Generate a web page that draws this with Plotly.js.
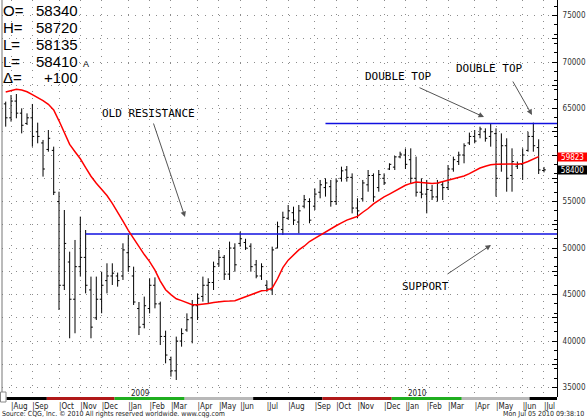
<!DOCTYPE html>
<html><head><meta charset="utf-8">
<script src="https://cdn.plot.ly/plotly-3.0.1.min.js"></script>
<style>html,body{margin:0;padding:0;background:#fff}#chart{width:587px;height:420px}</style>
</head><body><div id="chart"></div>
<script>
// ---- data (weekly bars, first bar week of 2008-07-28) ----
const firstWeek = '2008-07-28';
const weekCount = 102;

const openP = [
65500,64000,65800,64500,63400,64000,62500,61300,60600,60500,
55000,46000,48500,44500,48000,49000,45500,42500,44500,46500,
47000,47000,47000,49500,47000,43500,41800,43500,46000,44000,
40500,38000,36800,40000,41200,42500,43800,44800,46000,46300,
48300,49000,47200,50000,50500,50600,50200,48200,47000,46000,
45500,50000,52000,53200,53800,52800,54500,55000,54500,56000,
56500,56600,55000,57500,58400,57600,54300,55300,56800,57800,
56500,57500,58500,58700,59800,60000,59500,57500,56000,55800,
56200,55500,56800,56500,58500,59300,60000,61300,62000,62200,
62500,62000,62300,59000,61000,57800,58800,59000,60500,62000,
60800,58340];

const highP = [
65740,66450,66560,65020,64480,65490,63480,61620,62690,60900,
56060,54090,49610,50870,53380,51940,46930,46930,47460,48360,
48360,47360,50510,51410,48000,44200,44780,46750,46850,44240,
41120,38330,40480,41370,42980,44420,45130,46930,46750,48540,
49790,49250,50690,50510,51760,51000,50510,48720,48360,46500,
50150,52840,53910,54630,54450,54630,55710,55350,56420,57320,
57500,57320,57500,58750,58820,58030,55350,57320,58390,58030,
58390,58030,59110,59900,60360,60700,60720,59830,57500,57320,
56780,57320,57140,58930,59830,60360,61260,62410,62690,63050,
62870,63410,62870,62330,61800,60720,59300,60720,62510,63480,
61690,58720];

const lowP = [
63050,63590,63950,62330,63230,60900,61260,57680,60360,55700,
43340,45490,40300,40840,46930,45130,40300,42270,42990,45130,
46030,45850,46570,47460,43880,40650,41370,42980,43520,39580,
37610,36180,35820,39400,41010,39760,42270,44240,44060,45490,
48000,46570,46570,47460,50150,49800,47460,46750,46570,45300,
44950,49970,51410,53020,52480,51580,54270,52660,54090,55350,
55530,54450,54630,57140,57140,53730,53200,54990,56060,54990,
56060,56780,58390,58390,59650,58500,56960,55530,55350,53730,
55170,54990,55170,56240,58210,58930,59110,61080,61260,61800,
61440,60900,55530,58210,56060,56060,58500,57320,60360,60360,
57960,58135];

const closeP = [
64000,65800,64500,63200,64000,62000,62000,58500,61800,56000,
46000,50500,44500,48000,49000,46000,41500,44500,46000,47000,
47300,46500,49800,48000,44200,41500,43800,46000,44000,40500,
38500,36800,40000,40800,42300,43800,44600,46000,46300,48000,
49000,47200,50000,48200,51000,50000,48000,47000,48000,45600,
49800,52300,53300,54000,53000,54000,55200,53000,55800,56800,
57000,55000,57200,58300,57600,54300,54000,57000,57800,55500,
57900,57000,59000,59800,60100,59000,57500,56000,55800,56300,
55500,57000,56500,58500,59500,60000,61000,62000,61500,62800,
61800,62500,57500,61000,57500,59300,59000,60000,62000,61000,
58400,58410];

const maLine = [
66780,66950,67070,67000,66800,66500,66200,65850,65450,64850,
63680,62410,61140,60360,59600,58650,57720,56960,56320,55650,
54800,53920,52900,51910,51010,50130,49300,48540,47630,46450,
45520,45000,44550,44350,44150,43900,43900,43950,44050,44150,
44230,44280,44300,44340,44550,44750,45000,45200,45400,45450,
45700,46700,47900,48700,49300,49800,50200,50700,51050,51400,
51700,52050,52400,52700,53000,53200,53400,53850,54250,54750,
55150,55500,55800,56100,56450,56750,56950,57100,57050,56980,
56950,57000,57150,57300,57450,57600,57750,58000,58300,58600,
58800,58950,59000,59020,59040,59040,59000,59100,59300,59550,
59823,null];

const supportLevel = 51500, supportFrom = '2008-11-10';
const resistLevel = 63400, resistFrom = '2009-09-21';
const axisStart = '2008-07-23 03:00', axisEnd = '2010-07-22 02:00';
const yMin = 33989, yMax = 76666;
const yGrid = [35000,37500,40000,42500,45000,47500,50000,52500,55000,57500,60000,62500,65000,67500,70000,72500,75000];
const yHidden = [60000]; // label covered by the moving-average price box
const monthNames = ['Jan','Feb','Mar','Apr','May','Jun','Jul','Aug','Sep','Oct','Nov','Dec'];
const contractEdges = ['2008-07-29','2008-09-20','2008-12-18','2009-03-20','2009-06-18','2009-09-17','2009-12-17','2010-03-19','2010-06-16','2010-07-22 02:00'];
const contractColors = ['#000000','#b01818','#1fae1f','#b8b8b8','#000000','#b01818','#1fae1f','#b8b8b8','#000000'];
const ohlcLabels = ['O=','H=','L=','L=','\u0394='];
const ohlcValues = ['58340','58720','58135','58410','+100'];
const maLast = 59823, lastPrice = 58400;

// ---- build ----
const dates = [];
for (let i = 0; i < weekCount; i++) {
  const d = new Date(Date.UTC(2008, 6, 28) + i * 7 * 86400000);
  dates.push(d.toISOString().slice(0, 10));
}
const monthTicks = [], monthText = [], janTicks = [];
for (let i = 1; i < dates.length; i++) {
  if (dates[i].slice(5, 7) !== dates[i - 1].slice(5, 7)) {
    monthTicks.push(dates[i]);
    const m = parseInt(dates[i].slice(5, 7), 10) - 1;
    monthText.push('|' + monthNames[m]);
    if (m === 0) janTicks.push(dates[i]);
  }
}
const yText = yGrid.map(v => (v % 5000 === 0 && yHidden.indexOf(v) < 0) ? String(v) : '');

const PW = 555, PH = 397, LM = 2;
const P = px => (px - LM) / PW;
const Q = py => 1 - py / PH;
const narrow = 'Liberation Sans Narrow, DejaVu Sans Condensed, Liberation Sans, Arial, sans-serif';
const mono = 'DejaVu Sans Mono, Liberation Mono, monospace';

const traces = [
  {type:'scatter', mode:'lines', x:[supportFrom, axisEnd], y:[supportLevel, supportLevel],
   line:{color:'#1010e0', width:1.5}, hoverinfo:'skip'},
  {type:'scatter', mode:'lines', x:[resistFrom, axisEnd], y:[resistLevel, resistLevel],
   line:{color:'#1010e0', width:1.5}, hoverinfo:'skip'},
  {type:'scatter', mode:'lines', x:dates, y:maLine, line:{color:'#ff0000', width:1.5}, hoverinfo:'skip'},
  {type:'ohlc', x:dates, open:openP, high:highP, low:lowP, close:closeP,
   increasing:{line:{color:'#000', width:1}}, decreasing:{line:{color:'#000', width:1}},
   tickwidth:0.35, hoverinfo:'skip'}
];

const shapes = [];
for (let i = 0; i < contractColors.length; i++) {
  shapes.push({type:'rect', xref:'x', yref:'paper', x0:contractEdges[i], x1:contractEdges[i+1],
    y0:Q(400), y1:Q(397), fillcolor:contractColors[i], line:{width:0}, layer:'above'});
}
shapes.push({type:'line', xref:'paper', yref:'paper', x0:0, x1:0, y0:0, y1:1, line:{color:'#777', width:1}});
shapes.push({type:'rect', xref:'paper', yref:'paper', x0:P(0.5), x1:P(6), y0:Q(402), y1:Q(392), line:{color:'#888', width:1}, fillcolor:'#fff'});

const ann = [];
ohlcLabels.forEach((t, i) => {
  const cy = [10, 27, 44, 61, 78][i];
  ann.push({xref:'paper', yref:'paper', x:P(1), y:Q(cy), xanchor:'left', yanchor:'middle', text:t, showarrow:false,
    font:{family:'Liberation Sans, Arial, sans-serif', size:15, color:'#000'}});
  ann.push({xref:'paper', yref:'paper', x:P(80), y:Q(cy), xanchor:'right', yanchor:'middle', text:ohlcValues[i], showarrow:false,
    font:{family:'Liberation Sans, Arial, sans-serif', size:15, color:'#000'}});
});
ann.push({xref:'paper', yref:'paper', x:P(80.5), y:Q(64), xanchor:'left', yanchor:'middle', text:'A', showarrow:false,
  font:{family:'Liberation Sans, Arial, sans-serif', size:9, color:'#000'}});

const notes = [
  {t:'OLD RESISTANCE', cx:148, cy:113},
  {t:'DOUBLE TOP', cx:398, cy:76},
  {t:'DOUBLE TOP', cx:489, cy:68},
  {t:'SUPPORT', cx:425, cy:286}
];
notes.forEach(n => ann.push({xref:'paper', yref:'paper', x:P(n.cx), y:Q(n.cy), xanchor:'center', yanchor:'middle',
  text:n.t, showarrow:false, font:{family:mono, size:11, color:'#000'}}));
const arrows = [[153,122,185,217],[418,87,484,117],[512,80,532,115],[446,275,491,245]];
arrows.forEach(a => ann.push({xref:'paper', yref:'paper', x:P(a[2]), y:Q(a[3]), ax:a[0]-a[2], ay:a[1]-a[3],
  axref:'pixel', ayref:'pixel', text:'', showarrow:true, arrowhead:2, arrowsize:1.1, arrowwidth:1, arrowcolor:'#555',
  standoff:0, startstandoff:0}));

janTicks.forEach(d => ann.push({xref:'x', yref:'paper', x:d, y:Q(393.5), xanchor:'left', yanchor:'middle', xshift:1,
  text:d.slice(0, 4), showarrow:false, font:{family:narrow, size:8, color:'#222'}}));

ann.push({xref:'paper', x:P(557), y:maLast, xanchor:'left', yanchor:'middle', yref:'y',
  text:String(maLast), showarrow:false, bgcolor:'#ff0000', borderpad:0, width:29, height:8,
  font:{family:narrow, size:8, color:'#fff'}});
ann.push({xref:'paper', x:P(557), y:lastPrice, xanchor:'left', yanchor:'middle', yref:'y',
  text:String(lastPrice), showarrow:false, bgcolor:'#000', borderpad:0, width:29, height:8,
  font:{family:narrow, size:8, color:'#fff'}});

ann.push({xref:'paper', yref:'paper', x:P(0), y:Q(414), xanchor:'left', yanchor:'middle', showarrow:false,
  text:'Source: CQG, Inc. \u00a9 2010 All rights reserved worldwide. www.cqg.com', font:{family:narrow, size:7, color:'#222'}});
ann.push({xref:'paper', yref:'paper', x:P(586), y:Q(414), xanchor:'right', yanchor:'middle', showarrow:false,
  text:'Mon Jul 05 2010 09:38:10', font:{family:narrow, size:7, color:'#222'}});

const layout = {
  width:587, height:420,
  margin:{l:LM, r:30, t:0, b:23, pad:0},
  paper_bgcolor:'#fff', plot_bgcolor:'#fff',
  showlegend:false,
  font:{family:narrow, size:8, color:'#222'},
  xaxis:{type:'date', range:[axisStart, axisEnd], rangeslider:{visible:false}, fixedrange:true,
    tickmode:'array', tickvals:monthTicks, ticktext:monthText, ticks:'', showline:false, zeroline:false,
    tickangle:0, automargin:false,
    showgrid:true, gridcolor:'#8c8c8c', griddash:'1px,6px', gridwidth:1,
    ticklabelposition:'outside right', ticklabelstandoff:3, tickfont:{family:narrow, size:8, color:'#222'}},
  yaxis:{side:'right', range:[yMin, yMax], fixedrange:true, tickmode:'array', tickvals:yGrid, ticktext:yText,
    ticks:'inside', ticklen:5, tickcolor:'#000', showline:true, linecolor:'#000', linewidth:1, zeroline:false,
    automargin:false,
    showgrid:true, gridcolor:'#8c8c8c', griddash:'1px,6px', gridwidth:1,
    minor:{ticks:'inside', dtick:1000, ticklen:3, tickcolor:'#000', showgrid:false},
    ticklabelstandoff:3, tickfont:{family:narrow, size:8, color:'#333'}},
  shapes:shapes,
  annotations:ann
};

Plotly.newPlot('chart', traces, layout, {displayModeBar:false, staticPlot:true});
</script>
</body></html>
